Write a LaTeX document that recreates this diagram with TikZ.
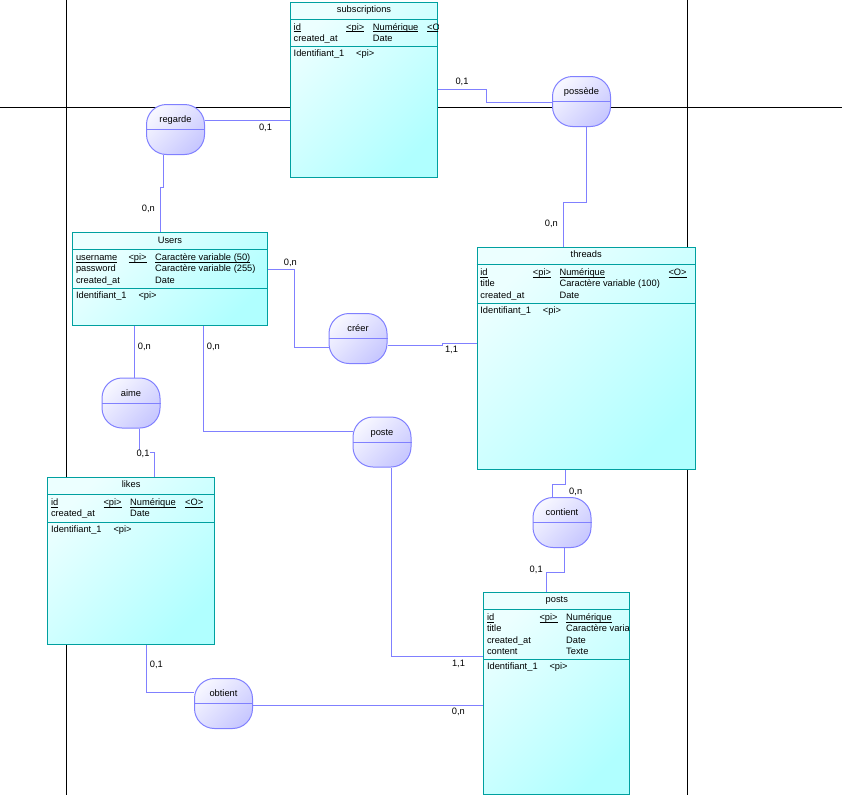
\documentclass[tikz,border=0pt]{standalone}
\usepackage{fontspec}
\setmainfont{Liberation Sans}
\usetikzlibrary{backgrounds}

\definecolor{entline}{RGB}{0,160,160}
\definecolor{entlight}{RGB}{236,255,255}
\definecolor{entdark}{RGB}{176,255,255}
\definecolor{relline}{RGB}{128,128,255}
\definecolor{rellight}{RGB}{246,246,255}
\definecolor{reldark}{RGB}{200,200,255}

\newcommand{\undl}[1]{\setbox0\hbox{#1}\rlap{\rule[-2.2pt]{\wd0}{0.8pt}}\box0}

\begin{document}
\begin{tikzpicture}[x=1pt, y=-1pt, font=\fontsize{9.3}{11}\selectfont,
    ent/.style={rectangle, draw=entline, line width=1pt, inner sep=0, anchor=north west,
        top color=entlight, bottom color=entdark, shading angle=45},
    sep/.style={draw=entline, line width=1pt},
    rel/.style={rectangle, rounded corners=20pt, draw=relline, line width=1pt, inner sep=0,
        minimum width=58pt, minimum height=50pt, top color=rellight, bottom color=reldark, shading angle=45},
    lnk/.style={draw=relline, line width=1pt},
    page/.style={draw=black, line width=1pt},
    txt/.style={anchor=base west, inner sep=0},
    ttl/.style={anchor=base, inner sep=0},
    card/.style={anchor=base, fill=white, inner sep=0.5pt}]

    \useasboundingbox (0,0) rectangle (842,795);

    % entities
    \node[ent, minimum width=147pt, minimum height=175.5pt] (subs) at (290,1.5) {};
    \node[ent, minimum width=194.4pt, minimum height=93pt] (users) at (72.3,232) {};
    \node[ent, minimum width=218pt, minimum height=222.3pt] (threads) at (476.7,246.7) {};
    \node[ent, minimum width=166.7pt, minimum height=167.3pt] (likes) at (47.3,476.7) {};
    \node[ent, minimum width=146pt, minimum height=202.3pt] (posts) at (483.3,591.7) {};

    % subscriptions
    \node[ttl] (subs-t) at ([yshift=-11pt]subs.north) {subscriptions};
    \draw[sep] ([yshift=-17.5pt]subs.north west) -- ([yshift=-17.5pt]subs.north east);
    \draw[sep] ([yshift=-45.4pt]subs.north west) -- ([yshift=-45.4pt]subs.north east);
    \begin{scope}
        \clip (subs.north west) rectangle (subs.south east);
        \foreach \a/\ty [count=\i] in {\undl{id}/\undl{Numérique}, created\_at/Date} {
            \node[txt] (subs-a\i) at ([xshift=3.5pt, yshift=-17.1pt-11.4pt*\i]subs.north west) {\a};
            \node[txt] (subs-d\i) at ([xshift=82.7pt, yshift=-17.1pt-11.4pt*\i]subs.north west) {\ty};
        }
        \node[txt] (subs-k) at ([xshift=56pt, yshift=-28.5pt]subs.north west) {\undl{<pi>}};
        \node[txt] (subs-o) at ([xshift=137pt, yshift=-28.5pt]subs.north west) {\undl{<O>}};
        \node[txt] (subs-id) at ([xshift=3.5pt, yshift=-55.4pt]subs.north west) {Identifiant\_1};
        \node[txt] (subs-idk) at ([xshift=66pt, yshift=-55.4pt]subs.north west) {<pi>};
    \end{scope}

    % Users
    \node[ttl] (users-t) at ([yshift=-11pt]users.north) {Users};
    \draw[sep] ([yshift=-17.5pt]users.north west) -- ([yshift=-17.5pt]users.north east);
    \draw[sep] ([yshift=-56.8pt]users.north west) -- ([yshift=-56.8pt]users.north east);
    \foreach \a/\ty [count=\i] in {\undl{username}/\undl{Caractère variable (50)},
            password/Caractère variable (255), created\_at/Date} {
        \node[txt] (users-a\i) at ([xshift=3.5pt, yshift=-17.1pt-11.4pt*\i]users.north west) {\a};
        \node[txt] (users-d\i) at ([xshift=82.7pt, yshift=-17.1pt-11.4pt*\i]users.north west) {\ty};
    }
    \node[txt] (users-k) at ([xshift=56pt, yshift=-28.5pt]users.north west) {\undl{<pi>}};
    \node[txt] (users-id) at ([xshift=3.5pt, yshift=-66.8pt]users.north west) {Identifiant\_1};
    \node[txt] (users-idk) at ([xshift=66pt, yshift=-66.8pt]users.north west) {<pi>};

    % threads
    \node[ttl] (threads-t) at ([yshift=-11pt]threads.north) {threads};
    \draw[sep] ([yshift=-17.5pt]threads.north west) -- ([yshift=-17.5pt]threads.north east);
    \draw[sep] ([yshift=-56.8pt]threads.north west) -- ([yshift=-56.8pt]threads.north east);
    \foreach \a/\ty [count=\i] in {\undl{id}/\undl{Numérique}, title/Caractère variable (100), created\_at/Date} {
        \node[txt] (threads-a\i) at ([xshift=3.5pt, yshift=-17.1pt-11.4pt*\i]threads.north west) {\a};
        \node[txt] (threads-d\i) at ([xshift=82.7pt, yshift=-17.1pt-11.4pt*\i]threads.north west) {\ty};
    }
    \node[txt] (threads-k) at ([xshift=56pt, yshift=-28.5pt]threads.north west) {\undl{<pi>}};
    \node[txt] (threads-o) at ([xshift=191.6pt, yshift=-28.5pt]threads.north west) {\undl{<O>}};
    \node[txt] (threads-id) at ([xshift=3.5pt, yshift=-66.8pt]threads.north west) {Identifiant\_1};
    \node[txt] (threads-idk) at ([xshift=66pt, yshift=-66.8pt]threads.north west) {<pi>};

    % likes
    \node[ttl] (likes-t) at ([yshift=-11pt]likes.north) {likes};
    \draw[sep] ([yshift=-17.5pt]likes.north west) -- ([yshift=-17.5pt]likes.north east);
    \draw[sep] ([yshift=-45.4pt]likes.north west) -- ([yshift=-45.4pt]likes.north east);
    \foreach \a/\ty [count=\i] in {\undl{id}/\undl{Numérique}, created\_at/Date} {
        \node[txt] (likes-a\i) at ([xshift=3.5pt, yshift=-17.1pt-11.4pt*\i]likes.north west) {\a};
        \node[txt] (likes-d\i) at ([xshift=82.7pt, yshift=-17.1pt-11.4pt*\i]likes.north west) {\ty};
    }
    \node[txt] (likes-k) at ([xshift=56pt, yshift=-28.5pt]likes.north west) {\undl{<pi>}};
    \node[txt] (likes-o) at ([xshift=137.7pt, yshift=-28.5pt]likes.north west) {\undl{<O>}};
    \node[txt] (likes-id) at ([xshift=3.5pt, yshift=-55.4pt]likes.north west) {Identifiant\_1};
    \node[txt] (likes-idk) at ([xshift=66pt, yshift=-55.4pt]likes.north west) {<pi>};

    % posts
    \node[ttl] (posts-t) at ([yshift=-11pt]posts.north) {posts};
    \draw[sep] ([yshift=-17.5pt]posts.north west) -- ([yshift=-17.5pt]posts.north east);
    \draw[sep] ([yshift=-68.2pt]posts.north west) -- ([yshift=-68.2pt]posts.north east);
    \begin{scope}
        \clip (posts.north west) rectangle ([xshift=-1pt]posts.south east);
        \foreach \a/\ty [count=\i] in {\undl{id}/\undl{Numérique}, title/Caractère variable (100),
                created\_at/Date, content/Texte} {
            \node[txt] (posts-a\i) at ([xshift=3.5pt, yshift=-17.1pt-11.4pt*\i]posts.north west) {\a};
            \node[txt] (posts-d\i) at ([xshift=82.7pt, yshift=-17.1pt-11.4pt*\i]posts.north west) {\ty};
        }
        \node[txt] (posts-k) at ([xshift=56pt, yshift=-28.5pt]posts.north west) {\undl{<pi>}};
        \node[txt] (posts-id) at ([xshift=3.5pt, yshift=-78.2pt]posts.north west) {Identifiant\_1};
        \node[txt] (posts-idk) at ([xshift=66pt, yshift=-78.2pt]posts.north west) {<pi>};
    \end{scope}

    % relations
    \foreach \n/\p/\lbl in {regarde/{175.5,129.5}/regarde, possede/{581.5,101.5}/possède,
            creer/{358,338.5}/créer, aime/{131,403}/aime, poste/{382,442}/poste,
            contient/{562,522.5}/contient, obtient/{223.5,703.5}/obtient} {
        \node[rel] (\n) at (\p) {};
        \draw[lnk] (\n.west) -- (\n.east);
        \node[ttl] (\n-t) at ([yshift=7pt]\n.center) {\lbl};
    }

    % connectors
    \begin{scope}[on background layer]
        \draw[page] (66.5,0) -- (66.5,795);
        \draw[page] (687,0) -- (687,795);
        \draw[page] (0,107.5) -- (842,107.5);

        \draw[lnk] (regarde.east |- 0,120) -- (subs.west |- 0,120);
        \draw[lnk] (regarde.south -| 163,0) |- (160,187) -- (users.north -| 160,0);
        \draw[lnk] (subs.east |- 0,89) -| (486,102) -- (possede.west |- 0,102);
        \draw[lnk] (possede.south -| 586,0) |- (563,202) -- (threads.north -| 563,0);
        \draw[lnk] (users.east |- 0,269) -| (294,347) -- (creer.west |- 0,347);
        \draw[lnk] (creer.east |- 0,345) -- (442,345) -- (442,343) -- (threads.west |- 0,343);
        \draw[lnk] (users.south -| 134,0) -- (aime.north -| 134,0);
        \draw[lnk] (aime.south -| 139,0) |- (154,452) -- (likes.north -| 154,0);
        \draw[lnk] (users.south -| 203,0) |- (poste.west |- 0,431);
        \draw[lnk] (poste.south -| 391,0) |- (posts.west |- 0,656);
        \draw[lnk] (threads.south -| 565,0) |- (552,484) -- (contient.north -| 552,0);
        \draw[lnk] (contient.south -| 564,0) |- (546,572) -- (posts.north -| 546,0);
        \draw[lnk] (likes.south -| 146,0) |- (obtient.west |- 0,692);
        \draw[lnk] (obtient.east |- 0,705) -- (posts.west |- 0,705);
    \end{scope}

    % cardinalities
    \node[card] (c1) at (265.5,130.5) {0,1};
    \node[card] (c2) at (148.3,211.5) {0,n};
    \node[card] (c3) at (462,84.9) {0,1};
    \node[card] (c4) at (551.3,226.5) {0,n};
    \node[card] (c5) at (290.3,265.5) {0,n};
    \node[card] (c6) at (451.5,352.5) {1,1};
    \node[card] (c7) at (144.3,349.9) {0,n};
    \node[card] (c8) at (213.3,349.9) {0,n};
    \node[card] (c9) at (143,456.5) {0,1};
    \node[card] (c10) at (575.7,494.2) {0,n};
    \node[card] (c11) at (536.2,572.5) {0,1};
    \node[card] (c12) at (156.3,667.5) {0,1};
    \node[card] (c13) at (458.5,666.5) {1,1};
    \node[card] (c14) at (458.3,714.2) {0,n};
\end{tikzpicture}
\end{document}
